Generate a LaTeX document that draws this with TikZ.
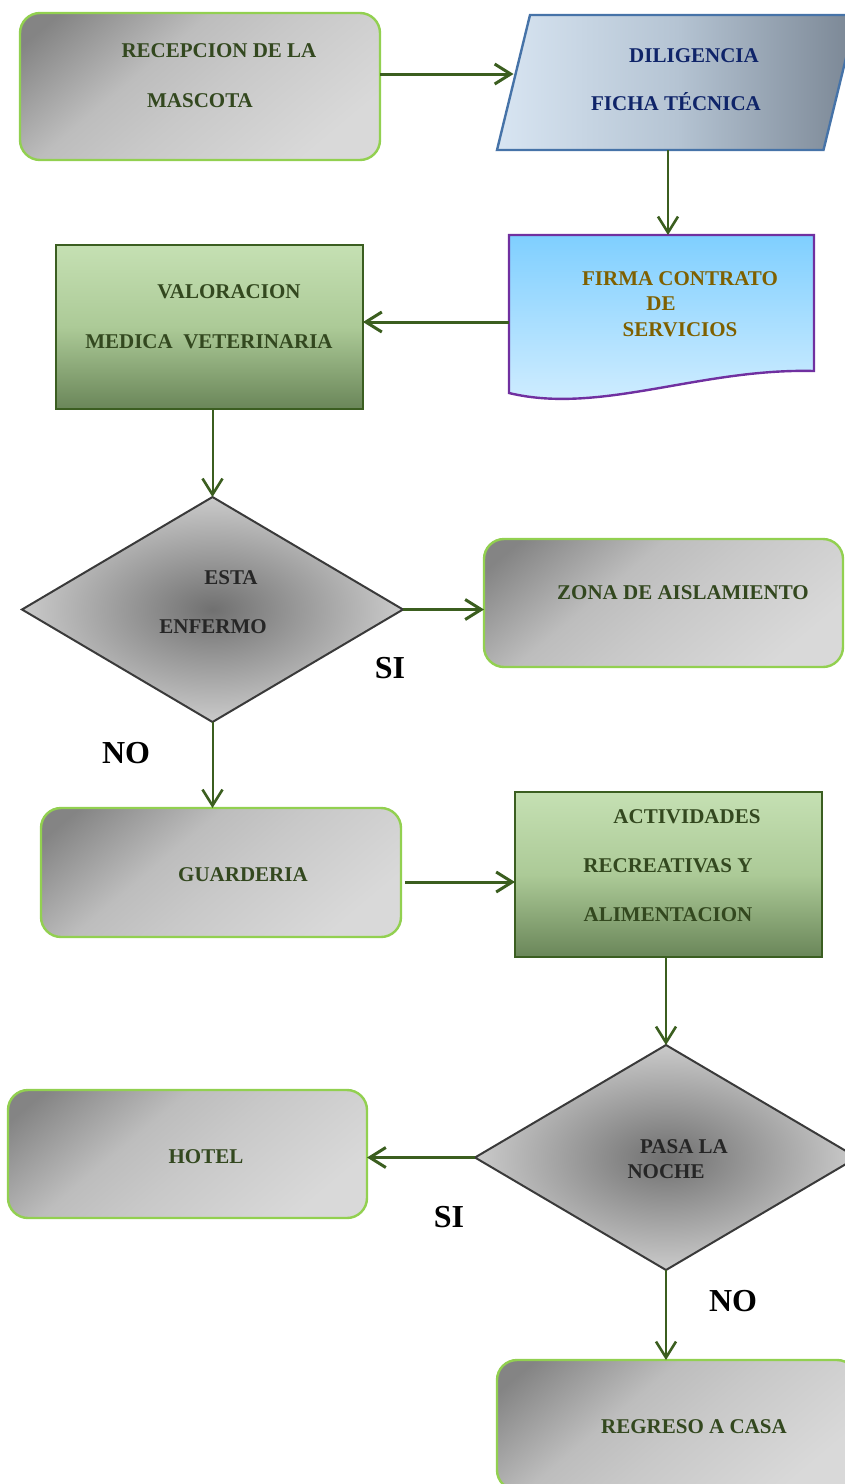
\documentclass[tikz,border=0pt]{standalone}
\usepackage{fontspec}
\setmainfont{Liberation Serif}
\usepackage{xcolor}
\usetikzlibrary{arrows.meta, positioning, shapes.geometric}
\definecolor{bordeverde}{HTML}{92D050}
\definecolor{grisoscuro}{HTML}{848484}
\definecolor{grismedio}{HTML}{BDBDBD}
\definecolor{grisclaro}{HTML}{D9D9D9}
\definecolor{flechaverde}{HTML}{3B5E1F}
\definecolor{txtverde}{HTML}{33481F}
\definecolor{txtazul}{HTML}{0F2469}
\definecolor{txtoro}{HTML}{7F6000}
\definecolor{txtgris}{HTML}{262626}
\definecolor{bordeazul}{HTML}{4673A8}
\definecolor{azulclaro}{HTML}{D8E5F2}
\definecolor{azulmedio}{HTML}{B5C4D3}
\definecolor{azulgris}{HTML}{7A8694}
\definecolor{celeste}{HTML}{7FCFFF}
\definecolor{celesteclaro}{HTML}{D6EFFF}
\definecolor{bordemorado}{HTML}{7030A0}
\definecolor{verdeclaro}{HTML}{C5E0B3}
\definecolor{verdemedio}{HTML}{ACCA97}
\definecolor{verdeoscuro}{HTML}{6A8659}
\definecolor{bordeverdeosc}{HTML}{3B5E21}
\definecolor{bordegris}{HTML}{3A3A3A}
\pgfdeclareverticalshading{grisdiag}{100bp}{color(0bp)=(grisclaro); color(25bp)=(grisclaro);
  color(48bp)=(grismedio!60!grisclaro); color(60bp)=(grismedio); color(80bp)=(grisoscuro);
  color(100bp)=(grisoscuro)}

\begin{document}
\begin{tikzpicture}[
  x=0.5pt, y=-0.5pt,
  font=\fontsize{10.5}{12.6}\selectfont\bfseries,
  caja/.style={rectangle, rounded corners=10pt, draw=bordeverde, line width=1.2pt, outer sep=0pt,
    shading=grisdiag, shading angle=40},
  cajaverde/.style={rectangle, draw=bordeverdeosc, line width=1pt, outer sep=0pt,
    top color=verdeclaro, bottom color=verdeoscuro, middle color=verdemedio},
  rombo/.style={diamond, draw=bordegris, line width=1pt, outer sep=0pt, inner sep=0pt,
    inner color=grisoscuro!85!black, outer color=grismedio!80!white},
  hueco/.style={rectangle, outer sep=0pt, inner sep=0pt},
  texto/.style={anchor=base, inner sep=0pt, text=txtverde},
  respuesta/.style={anchor=base, inner sep=0pt, font=\fontsize{16}{19}\selectfont\bfseries},
  flecha/.style={-{Straight Barb[length=8pt,width=10pt]}, line width=1.5pt, draw=flechaverde},
  flechav/.style={-{Straight Barb[length=8pt,width=10pt,line width=1.3pt]}, line width=1pt, draw=flechaverde}
]
  \useasboundingbox (0,0) rectangle (845,1484);
  \clip (0,0) rectangle (845,1484);

  \node[caja, minimum width=180pt, minimum height=73.5pt] (recepcion) at (200,86.5) {};
  \node[hueco, minimum width=163.25pt, minimum height=67.5pt] (diligencia) at (676.75,82.5) {};
  \path[draw=bordeazul, line width=1.2pt, left color=azulclaro, right color=azulgris, middle color=azulmedio]
    ([xshift=8.25pt]diligencia.north west) -- ([xshift=8.25pt]diligencia.north east)
    -- ([xshift=-8.25pt]diligencia.south east) -- ([xshift=-8.25pt]diligencia.south west) -- cycle;
  \node[hueco, minimum width=152.5pt, minimum height=68pt] (firma) at (661.5,303) {};
  \path[draw=bordemorado, line width=1.2pt, top color=celeste, bottom color=celesteclaro]
    (firma.north west) -- (firma.north east) -- (firma.south east)
    .. controls ([xshift=-57pt,yshift=1.5pt]firma.south east) and ([xshift=45.5pt,yshift=-22pt]firma.south west)
    .. ([yshift=-11pt]firma.south west) -- cycle;
  \node[cajaverde, minimum width=153.5pt, minimum height=82pt] (valoracion) at (209.5,327) {};
  \node[rombo, minimum width=190.5pt, minimum height=112.5pt] (esta) at (212.5,609.5) {};
  \node[caja, minimum width=179.5pt, minimum height=64pt] (zona) at (663.5,603) {};
  \node[caja, minimum width=180pt, minimum height=64.5pt] (guarderia) at (221,872.5) {};
  \node[cajaverde, minimum width=153.5pt, minimum height=82.5pt] (actividades) at (668.5,874.5) {};
  \node[rombo, minimum width=191pt, minimum height=112.5pt] (pasa) at (666,1157.5) {};
  \node[caja, minimum width=179.5pt, minimum height=64pt] (hotel) at (187.5,1154) {};
  \node[caja, minimum width=180pt, minimum height=65pt] (regreso) at (677,1425) {};

  \node[texto] (t-recepcion) at (219,57) {RECEPCION DE LA};
  \node[texto] (t-mascota) at (200,107) {MASCOTA};
  \node[texto, text=txtazul] (t-diligencia) at (694,62) {DILIGENCIA};
  \node[texto, text=txtazul] (t-ficha) at (676,110) {FICHA TÉCNICA};
  \node[texto, text=txtoro] (t-firma) at (680,285) {FIRMA CONTRATO};
  \node[texto, text=txtoro] (t-de) at (661,310) {DE};
  \node[texto, text=txtoro] (t-servicios) at (680,336) {SERVICIOS};
  \node[texto] (t-valoracion) at (229,298) {VALORACION};
  \node[texto] (t-medica) at (209,348) {MEDICA\ \ VETERINARIA};
  \node[texto, text=txtgris] (t-esta) at (231,584) {ESTA};
  \node[texto, text=txtgris] (t-enfermo) at (213,633) {ENFERMO};
  \node[texto] (t-zona) at (683,599) {ZONA DE AISLAMIENTO};
  \node[texto] (t-guarderia) at (243,881) {GUARDERIA};
  \node[texto] (t-actividades) at (687,823) {ACTIVIDADES};
  \node[texto] (t-recreativas) at (668,872) {RECREATIVAS Y};
  \node[texto] (t-alimentacion) at (668,921) {ALIMENTACION};
  \node[texto, text=txtgris] (t-pasa) at (684,1153) {PASA LA};
  \node[texto, text=txtgris] (t-noche) at (666,1178) {NOCHE};
  \node[texto] (t-hotel) at (206,1163) {HOTEL};
  \node[texto] (t-regreso) at (694,1433) {REGRESO A CASA};

  \node[respuesta] (si1) at (390,678.5) {SI};
  \node[respuesta] (no1) at (126,763.5) {NO};
  \node[respuesta] (si2) at (449,1227.5) {SI};
  \node[respuesta] (no2) at (733,1311.5) {NO};

  \draw[flecha] ([yshift=6.25pt]recepcion.east) -- ([yshift=6.25pt]recepcion.east -| diligencia.west);
  \draw[flechav] ([xshift=3.25pt]firma.north |- diligencia.south) -- ([xshift=3.25pt]firma.north);
  \draw[flecha] ([yshift=-9.5pt]firma.west) -- ([yshift=-9.5pt]firma.west -| valoracion.east);
  \draw[flechav] (valoracion.south -| esta.north) -- (esta.north);
  \draw[flecha] (esta.east) -- (esta.east -| zona.west);
  \draw[flechav] (esta.south) -- (guarderia.north -| esta.south);
  \draw[flecha] ([xshift=2pt,yshift=-4.75pt]guarderia.east) -- ([yshift=-4.75pt]guarderia.east -| actividades.west);
  \draw[flechav] (actividades.south -| pasa.north) -- (pasa.north);
  \draw[flecha] (pasa.west) -- (pasa.west -| hotel.east);
  \draw[flechav] (pasa.south) -- (regreso.north -| pasa.south);
\end{tikzpicture}
\end{document}
